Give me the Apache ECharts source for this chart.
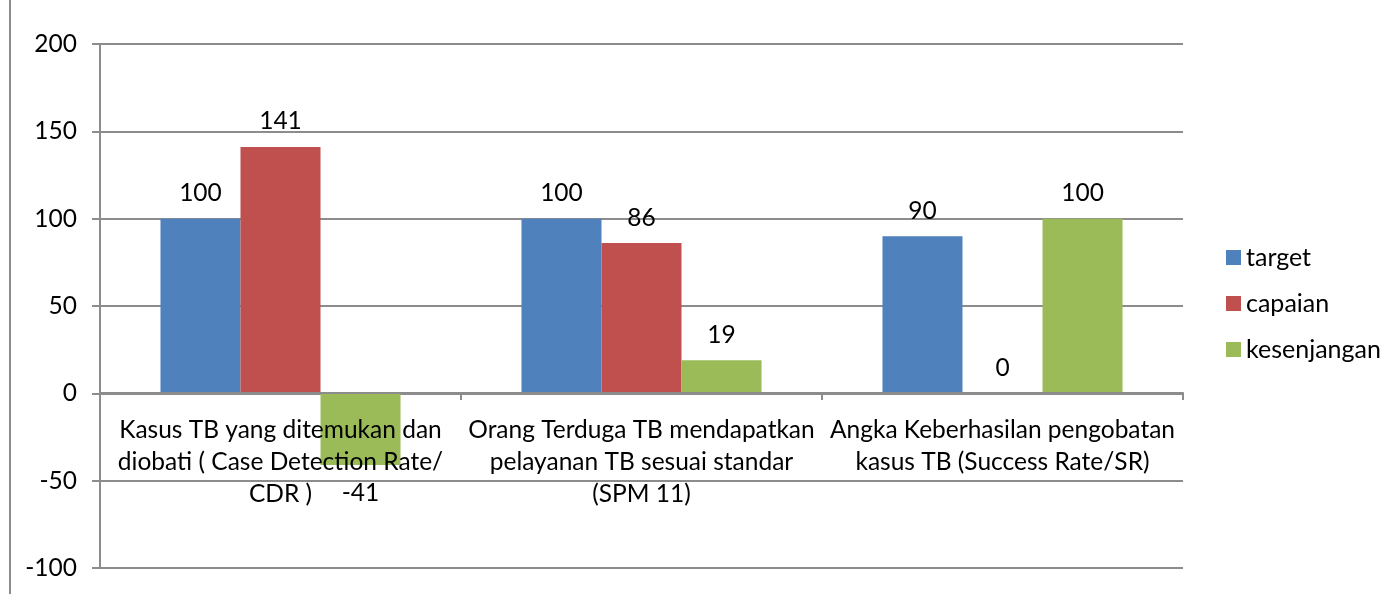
<!DOCTYPE html>
<html><head><meta charset="utf-8">
<script src="https://cdn.jsdelivr.net/npm/echarts@6/dist/echarts.min.js"></script>
<style>html,body{margin:0;padding:0;background:#fff}#c{width:1388px;height:594px}</style>
</head><body><div id="c"></div>
<script>
var categories = [
  "Kasus TB yang ditemukan dan\ndiobati ( Case Detection Rate/\nCDR )",
  "Orang Terduga TB mendapatkan\npelayanan TB sesuai standar\n(SPM 11)",
  "Angka Keberhasilan pengobatan\nkasus TB (Success Rate/SR)"
];
var seriesNames = ["target", "capaian", "kesenjangan"];
var target = [100, 100, 90];
var capaian = [141, 86, 0];
var kesenjangan = [-41, 19, 100];
var yTicks = [-100, -50, 0, 50, 100, 150, 200];

var colors = ["#4F81BD", "#C0504D", "#9BBB59"];
var font = "Lato, 'Open Sans', sans-serif";
var fs = 24.5;
function mk(name, data, color) {
  return {
    name: name, type: 'bar', data: data.map(function(v){
      return {value: v, label: {position: v < 0 ? 'bottom' : 'top', distance: v < 0 ? 16 : 13}};
    }),
    itemStyle: {color: color},
    barGap: '0%', barCategoryGap: '33.5%',
    label: {show: true, color: '#000', fontSize: fs, fontFamily: font},
    z: 1
  };
}
var chart = echarts.init(document.getElementById('c'));
chart.setOption({
  animation: false,
  color: colors,
  grid: {left: 100, top: 44, width: 1083, height: 524, containLabel: false, outerBoundsMode: 'none'},
  legend: {
    orient: 'vertical', left: 1226, top: 245, padding: 0, itemWidth: 15, itemHeight: 15, itemGap: 21,
    icon: 'rect',
    textStyle: {fontSize: 25, fontFamily: font, color: '#000'},
    data: seriesNames
  },
  xAxis: {
    type: 'category', data: categories, offset: -175,
    axisLine: {onZero: false, lineStyle: {color: '#8c8c8c', width: 2}},
    axisTick: {show: true, length: 7, interval: 0, lineStyle: {color: '#8c8c8c', width: 2}},
    axisLabel: {interval: 0, fontSize: fs, fontFamily: font, color: '#000', lineHeight: 32, margin: 21},
    z: 5
  },
  yAxis: {
    type: 'value', min: yTicks[0], max: yTicks[yTicks.length-1], interval: 50,
    axisLine: {show: true, lineStyle: {color: '#8c8c8c', width: 2}},
    axisTick: {show: true, length: 8, lineStyle: {color: '#8c8c8c', width: 2}},
    axisLabel: {fontSize: fs, fontFamily: font, color: '#000', margin: 23},
    splitLine: {show: true, lineStyle: {color: '#8c8c8c', width: 2}}
  },
  graphic: [{type: 'line', shape: {x1: 10, y1: 0, x2: 10, y2: 594}, style: {stroke: '#8c8c8c', lineWidth: 2}}],
  series: [mk(seriesNames[0], target, colors[0]), mk(seriesNames[1], capaian, colors[1]), mk(seriesNames[2], kesenjangan, colors[2])]
});
</script></body></html>
